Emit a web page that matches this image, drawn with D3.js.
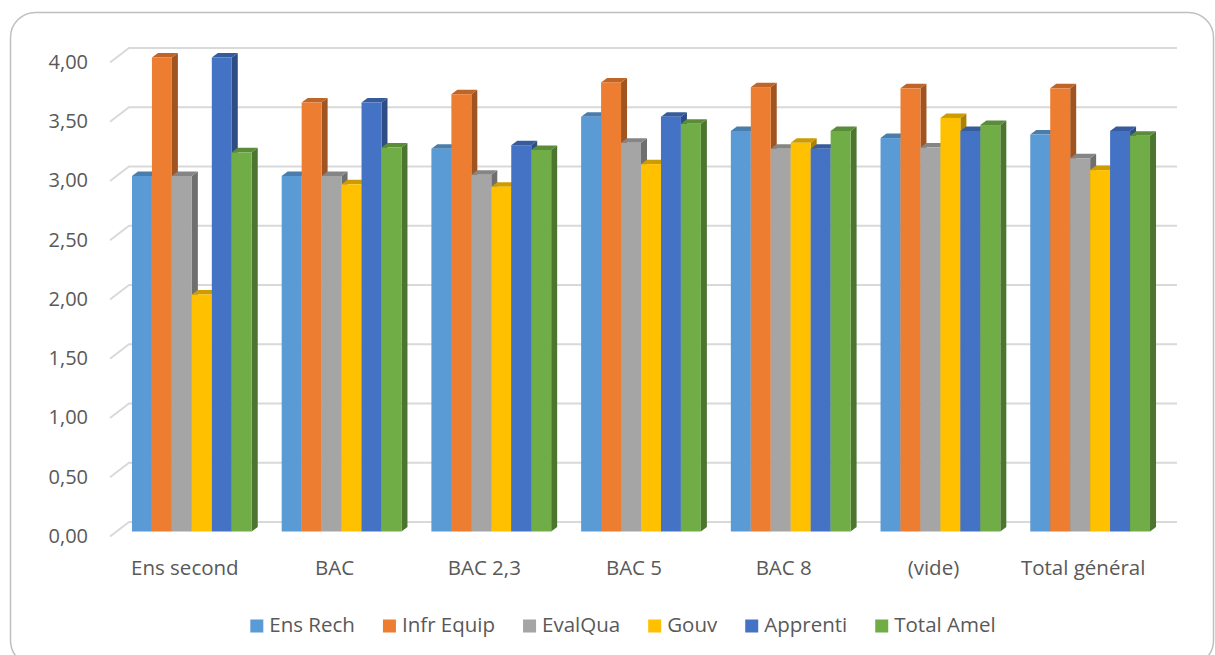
<!DOCTYPE html>
<html>
<head>
<meta charset="utf-8">
<script src="https://cdnjs.cloudflare.com/ajax/libs/d3/7.8.5/d3.min.js"></script>
<style>
    html, body { margin: 0; padding: 0; background: #fff; }
    svg { display: block; }
    text { font-family: 'Open Sans', 'Liberation Sans', sans-serif; fill: #595959; }
</style>
</head>
<body>
<svg id="chart" width="1215" height="655"></svg>
<script>
var categories = ['Ens second', 'BAC', 'BAC 2,3', 'BAC 5', 'BAC 8', '(vide)', 'Total général'];
var seriesNames = ['Ens Rech', 'Infr Equip', 'EvalQua', 'Gouv', 'Apprenti', 'Total Amel'];
var seriesColors = ['#5b9bd5', '#ed7d31', '#a5a5a5', '#ffc000', '#4472c4', '#70ad47'];

// one array per series, ordered like categories
var ensRech   = [3.00, 3.00, 3.23, 3.50, 3.38, 3.32, 3.35];
var infrEquip = [4.00, 3.62, 3.69, 3.79, 3.75, 3.74, 3.74];
var evalQua   = [3.00, 3.00, 3.01, 3.28, 3.23, 3.24, 3.15];
var gouv      = [2.00, 2.93, 2.91, 3.10, 3.28, 3.49, 3.05];
var apprenti  = [4.00, 3.62, 3.26, 3.50, 3.23, 3.38, 3.38];
var totalAmel = [3.20, 3.24, 3.22, 3.44, 3.38, 3.43, 3.34];

var yTicks = [0, 0.5, 1, 1.5, 2, 2.5, 3, 3.5, 4];

var seriesValues = [ensRech, infrEquip, evalQua, gouv, apprenti, totalAmel];

var svg = d3.select('#chart'),
    fmt = function(v) { return d3.format('.2f')(v).replace('.', ','); };

// back wall of the 3D plot, front edge is shifted down-left
var backLeft = 129, backRight = 1177,
    frontDx = -19, frontDy = 14.5,
    barDx = -12, barDy = 9.5,
    depthDx = 6, depthDy = -4.5;

var x = d3.scaleBand()
    .domain(categories)
    .range([backLeft, backRight])
    .paddingInner(0.2)
    .paddingOuter(0.1);

var xs = d3.scaleBand()
    .domain(d3.range(seriesNames.length))
    .range([0, x.bandwidth()]);

var y = d3.scaleLinear()
    .domain([0, 4])
    .range([522, 48]);

// chart frame
svg.append('rect')
    .attr('x', 10.5).attr('y', 12.5)
    .attr('width', 1203).attr('height', 653)
    .attr('rx', 25).attr('ry', 25)
    .attr('fill', '#fff')
    .attr('stroke', '#bfbfbf')
    .attr('stroke-width', 1.5);

// gridlines: left wall diagonal + back line
var grid = svg.append('g')
    .attr('fill', 'none')
    .attr('stroke', '#d9d9d9')
    .attr('stroke-width', 2);

grid.selectAll('path')
    .data(yTicks)
  .enter().append('path')
    .attr('d', function(v) {
        var yb = y(v);
        return 'M' + (backLeft + frontDx) + ',' + (yb + frontDy) +
               'L' + backLeft + ',' + yb + 'H' + backRight;
    });

svg.append('g')
    .selectAll('text')
    .data(yTicks)
  .enter().append('text')
    .attr('x', 88)
    .attr('y', function(v) { return y(v) + frontDy + 1; })
    .attr('text-anchor', 'end')
    .attr('dominant-baseline', 'middle')
    .style('font-size', '20px')
    .text(fmt);

svg.append('g')
    .selectAll('text')
    .data(categories)
  .enter().append('text')
    .attr('x', function(c) { return x(c) + x.bandwidth() / 2 + frontDx; })
    .attr('y', 575)
    .attr('text-anchor', 'middle')
    .style('font-size', '20.5px')
    .text(function(c) { return c; });

// bars, drawn left to right so each front face hides the previous side
var bars = svg.append('g');

categories.forEach(function(cat, ci) {
    seriesValues.forEach(function(vals, si) {
        var color = seriesColors[si],
            x0 = x(cat) + xs(si) + barDx,
            w = xs.bandwidth(),
            yt = y(vals[ci]) + barDy,
            yb = y(0) + barDy,
            g = bars.append('g');

        g.append('path')
            .attr('d', 'M' + (x0 + w) + ',' + yt +
                       'L' + (x0 + w + depthDx) + ',' + (yt + depthDy) +
                       'L' + (x0 + w + depthDx) + ',' + (yb + depthDy) +
                       'L' + (x0 + w) + ',' + yb + 'Z')
            .attr('fill', d3.color(color).darker(1.1));

        g.append('path')
            .attr('d', 'M' + x0 + ',' + yt +
                       'L' + (x0 + depthDx) + ',' + (yt + depthDy) +
                       'L' + (x0 + w + depthDx) + ',' + (yt + depthDy) +
                       'L' + (x0 + w) + ',' + yt + 'Z')
            .attr('fill', d3.color(color).darker(0.6));

        g.append('rect')
            .attr('x', x0).attr('y', yt)
            .attr('width', w).attr('height', yb - yt)
            .attr('fill', color);
    });
});

// legend, centred under the plot
var legend = svg.append('g'),
    legendY = 626,
    sq = 13, gapText = 6, gapItem = 28;

var items = legend.selectAll('g')
    .data(seriesNames)
  .enter().append('g');

items.append('rect')
    .attr('width', sq).attr('height', sq)
    .attr('y', legendY - sq / 2)
    .attr('fill', function(d, i) { return seriesColors[i]; });

items.append('text')
    .attr('x', sq + gapText)
    .attr('y', legendY + 1)
    .attr('dominant-baseline', 'middle')
    .style('font-size', '20.5px')
    .text(function(d) { return d; });

var widths = [];
items.each(function() {
    widths.push(sq + gapText + this.querySelector('text').getComputedTextLength());
});
var total = d3.sum(widths) + gapItem * (widths.length - 1),
    cursor = 623 - total / 2;

items.attr('transform', function(d, i) {
    var tx = cursor;
    cursor += widths[i] + gapItem;
    return 'translate(' + tx + ',0)';
});
</script>
</body>
</html>
